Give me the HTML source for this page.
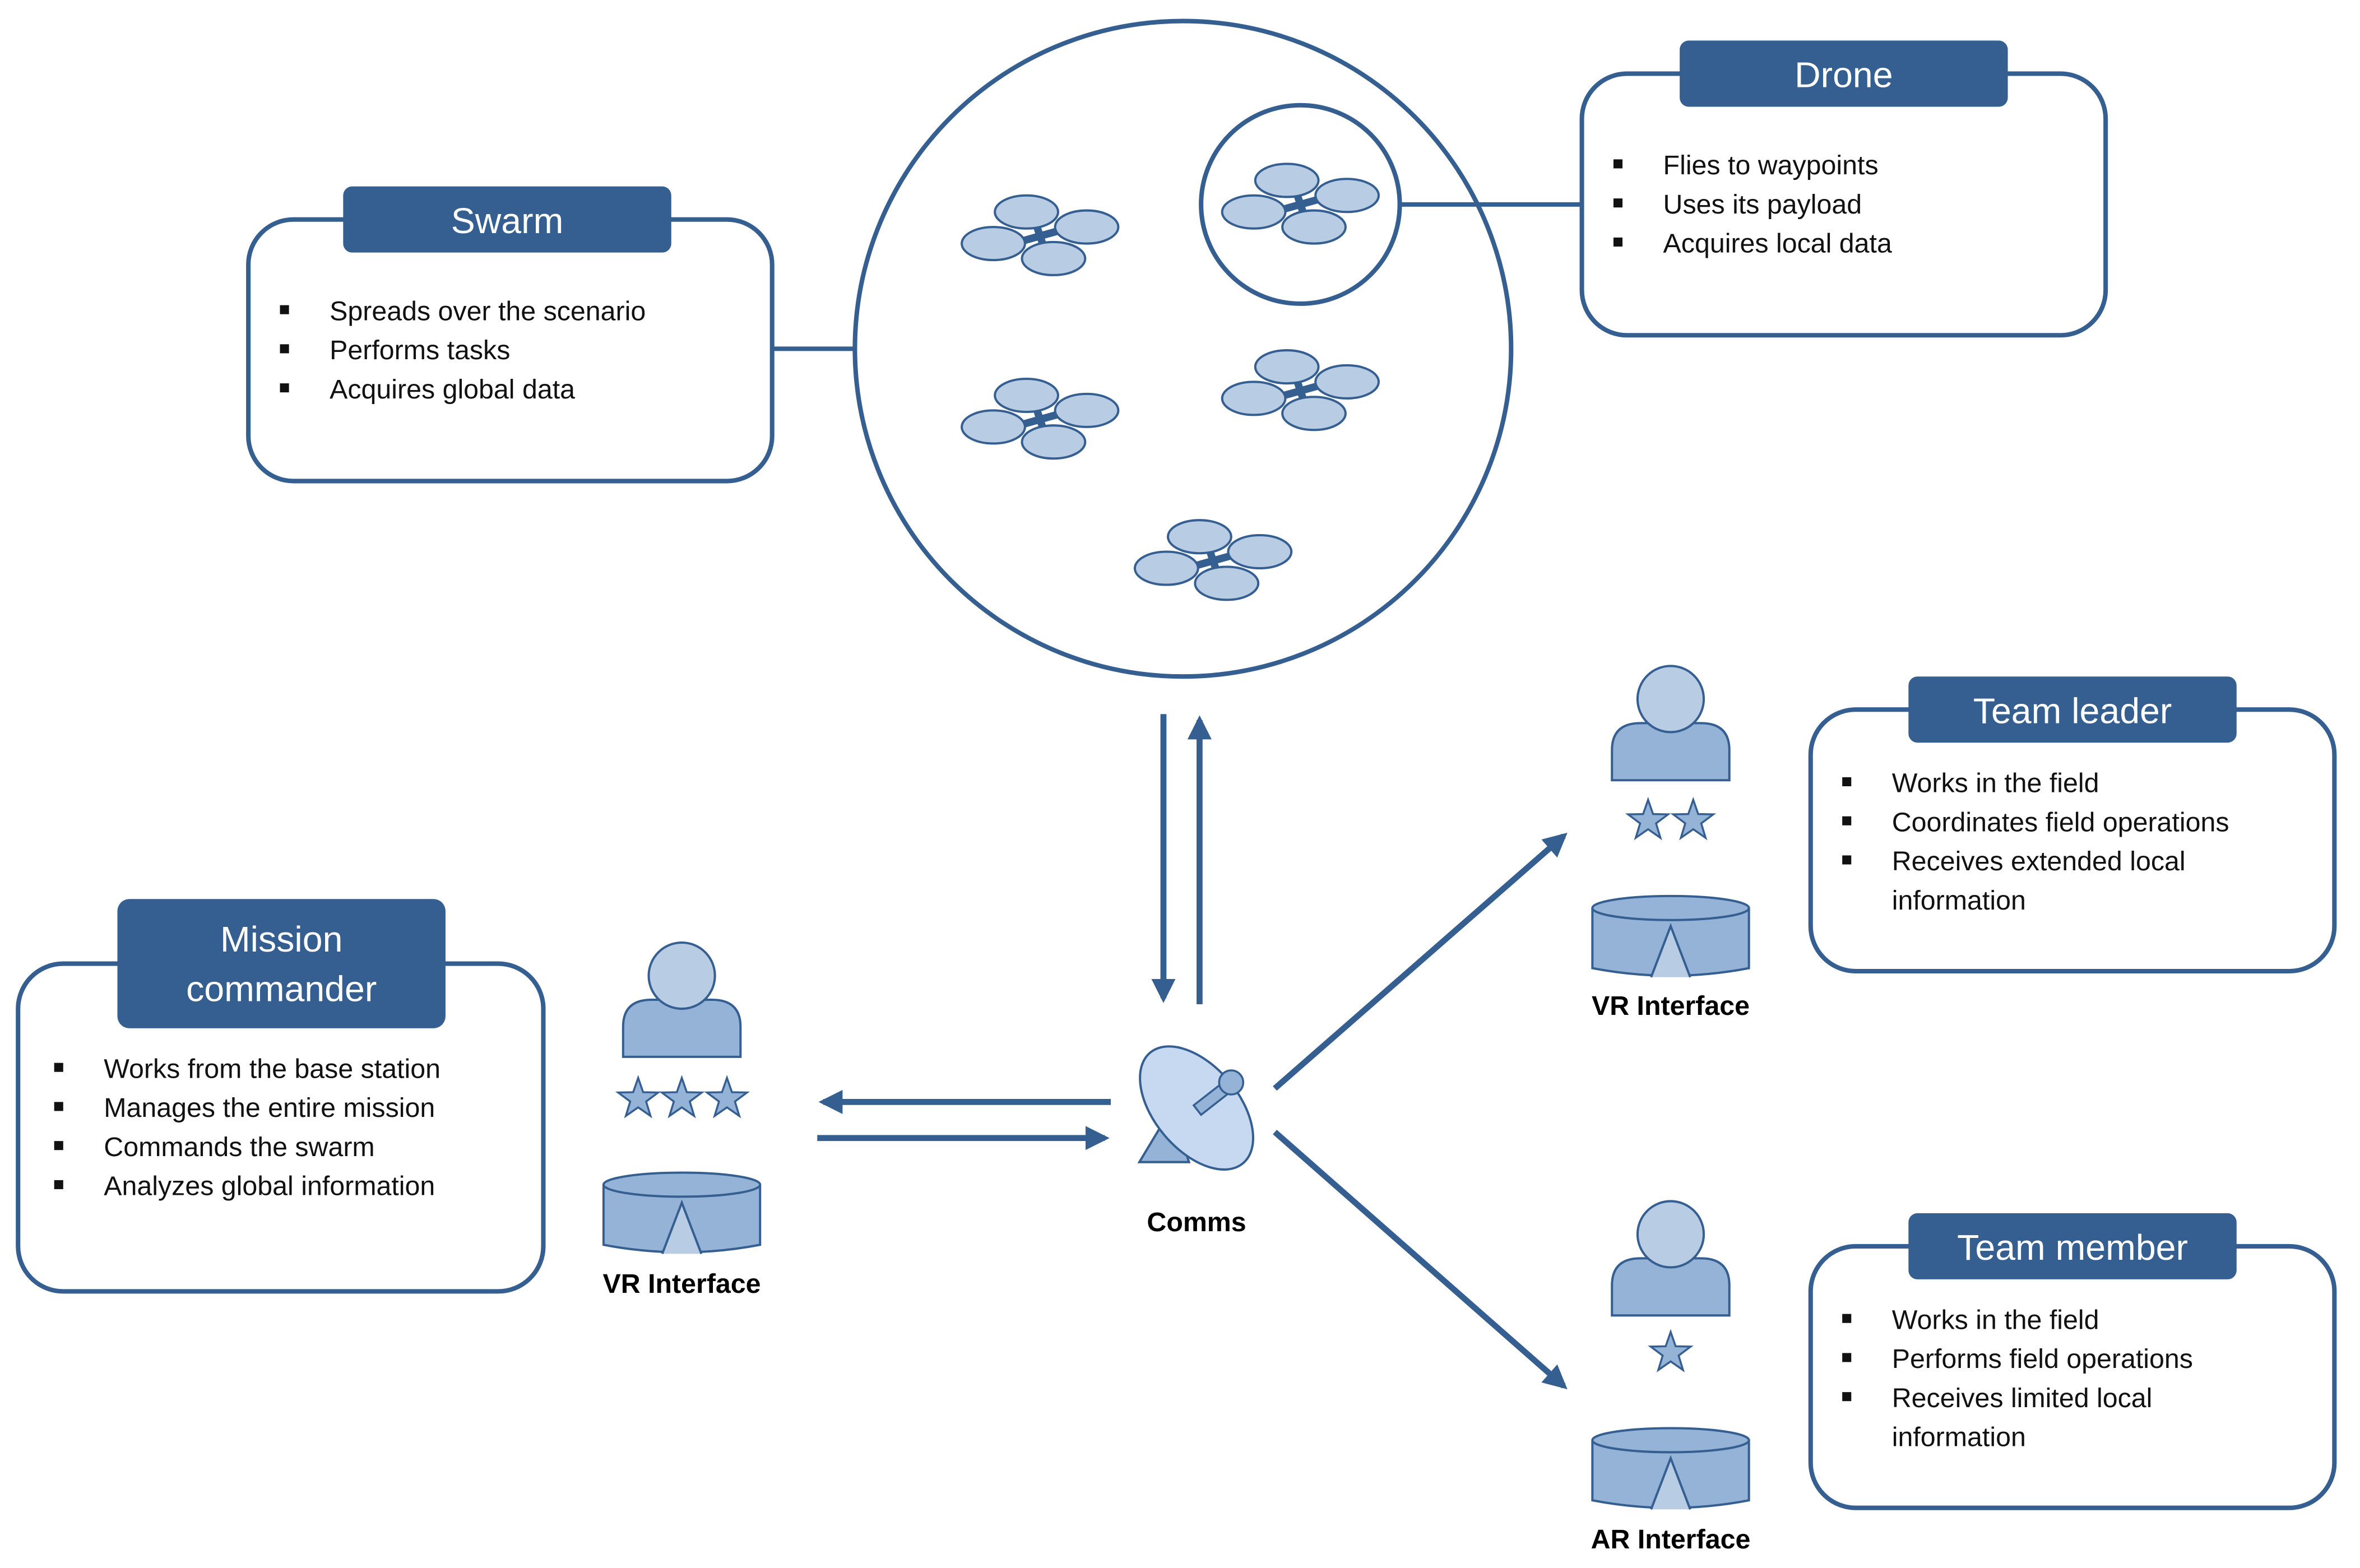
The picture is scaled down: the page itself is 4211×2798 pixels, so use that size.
<!DOCTYPE html>
<html><head><meta charset="utf-8"><style>
html,body{margin:0;padding:0;background:#fff}
svg{display:block}
text{font-family:"Liberation Sans",sans-serif}
</style></head><body>
<svg width="4211" height="2798" viewBox="0 0 1568 1043" preserveAspectRatio="none" xmlns="http://www.w3.org/2000/svg">
<defs>
<g id="drone">
<path d="M-25,7 L25,-7 M-4,-12 L4,12" stroke="#365F91" stroke-width="5"/>
<ellipse cx="-9" cy="-16" rx="21" ry="11" fill="#B8CCE4" stroke="#365F91" stroke-width="1.5"/>
<ellipse cx="31" cy="-6" rx="21" ry="11" fill="#B8CCE4" stroke="#365F91" stroke-width="1.5"/>
<ellipse cx="-31" cy="5" rx="21" ry="11" fill="#B8CCE4" stroke="#365F91" stroke-width="1.5"/>
<ellipse cx="9" cy="15" rx="21" ry="11" fill="#B8CCE4" stroke="#365F91" stroke-width="1.5"/>
</g>
<g id="person">
<path d="M-39,38 L-39,18 Q-39,0 -20,0 L20,0 Q39,0 39,18 L39,38 Z" fill="#95B3D7" stroke="#365F91" stroke-width="1.5"/>
<circle cx="0" cy="-16" r="22" fill="#B8CCE4" stroke="#365F91" stroke-width="1.5"/>
</g>
<g id="dev">
<path d="M-52,0 L-52,40 Q0,50 52,40 L52,0" fill="#95B3D7" stroke="#365F91" stroke-width="1.5"/>
<ellipse cx="0" cy="0" rx="52" ry="8" fill="#95B3D7" stroke="#365F91" stroke-width="1.5"/>
<path d="M-13,46 L0,12 L13,46" fill="#B8CCE4" stroke="#365F91" stroke-width="1.5"/>
</g>
<polygon id="star" points="0,-14 3.3,-4.5 13.3,-4.3 5.3,1.7 8.2,11.3 0,5.6 -8.2,11.3 -5.3,1.7 -13.3,-4.3 -3.3,-4.5" fill="#95B3D7" stroke="#365F91" stroke-width="1.3"/>
<marker id="ah" viewBox="0 0 10 10" refX="8" refY="5" markerWidth="4" markerHeight="4" orient="auto"><path d="M0,0 L10,5 L0,10 Z" fill="#365F91"/></marker>
</defs>

<g stroke="#365F91" stroke-width="3" fill="#fff">
<line x1="513" y1="232" x2="567" y2="232"/>
<circle cx="786" cy="232" r="218"/>
<circle cx="864" cy="136" r="66"/>
<line x1="930" y1="136" x2="1051" y2="136"/>
<rect x="165" y="146" width="348" height="174" rx="30"/>
<rect x="1051" y="49" width="348" height="174" rx="30"/>
<rect x="12" y="641" width="349" height="218" rx="30"/>
<rect x="1203" y="472" width="348" height="174" rx="30"/>
<rect x="1203" y="829" width="348" height="174" rx="30"/>
</g>
<g fill="#365F91">
<rect x="228" y="124" width="218" height="44" rx="6"/>
<rect x="1116" y="27" width="218" height="44" rx="6"/>
<rect x="78" y="598" width="218" height="86" rx="8"/>
<rect x="1268" y="450" width="218" height="44" rx="6"/>
<rect x="1268" y="807" width="218" height="44" rx="6"/>
</g>
<g fill="#fff" font-size="24" text-anchor="middle">
<text x="337" y="155">Swarm</text>
<text x="1225" y="58">Drone</text>
<text x="187" y="633">Mission</text>
<text x="187" y="666">commander</text>
<text x="1377" y="481">Team leader</text>
<text x="1377" y="838">Team member</text>
</g>
<g font-size="18" fill="#111">
<g><rect x="186" y="203" width="6" height="6"/><text x="219" y="213">Spreads over the scenario</text>
<rect x="186" y="229" width="6" height="6"/><text x="219" y="239">Performs tasks</text>
<rect x="186" y="255" width="6" height="6"/><text x="219" y="265">Acquires global data</text></g>
<g><rect x="1072" y="106" width="6" height="6"/><text x="1105" y="116">Flies to waypoints</text>
<rect x="1072" y="132" width="6" height="6"/><text x="1105" y="142">Uses its payload</text>
<rect x="1072" y="158" width="6" height="6"/><text x="1105" y="168">Acquires local data</text></g>
<g><rect x="36" y="707" width="6" height="6"/><text x="69" y="717">Works from the base station</text>
<rect x="36" y="733" width="6" height="6"/><text x="69" y="743">Manages the entire mission</text>
<rect x="36" y="759" width="6" height="6"/><text x="69" y="769">Commands the swarm</text>
<rect x="36" y="785" width="6" height="6"/><text x="69" y="795">Analyzes global information</text></g>
<g><rect x="1224" y="517" width="6" height="6"/><text x="1257" y="527">Works in the field</text>
<rect x="1224" y="543" width="6" height="6"/><text x="1257" y="553">Coordinates field operations</text>
<rect x="1224" y="569" width="6" height="6"/><text x="1257" y="579">Receives extended local</text>
<text x="1257" y="605">information</text></g>
<g><rect x="1224" y="874" width="6" height="6"/><text x="1257" y="884">Works in the field</text>
<rect x="1224" y="900" width="6" height="6"/><text x="1257" y="910">Performs field operations</text>
<rect x="1224" y="926" width="6" height="6"/><text x="1257" y="936">Receives limited local</text>
<text x="1257" y="962">information</text></g>
</g>

<use href="#drone" x="691" y="157"/>
<use href="#drone" x="864" y="136"/>
<use href="#drone" x="691" y="279"/>
<use href="#drone" x="864" y="260"/>
<use href="#drone" x="806" y="373"/>

<g stroke="#365F91" stroke-width="4" marker-end="url(#ah)">
<line x1="773" y1="475" x2="773" y2="664"/>
<line x1="797" y1="668" x2="797" y2="479"/>
<line x1="738" y1="733" x2="547" y2="733"/>
<line x1="543" y1="757" x2="734" y2="757"/>
<line x1="847" y1="724" x2="1039" y2="556"/>
<line x1="847" y1="753" x2="1039" y2="922"/>
</g>

<polygon points="757,773 790,773 778,738" fill="#95B3D7" stroke="#365F91" stroke-width="1.5"/>
<ellipse cx="795" cy="737" rx="28" ry="48" transform="rotate(-40 795 737)" fill="#C6D9F1" stroke="#365F91" stroke-width="1.5"/>
<rect x="793" y="727" width="25" height="8" transform="rotate(-38 805 731)" fill="#95B3D7" stroke="#365F91" stroke-width="1.3"/>
<circle cx="818" cy="720" r="8" fill="#95B3D7" stroke="#365F91" stroke-width="1.3"/>
<text x="795" y="819" font-size="18" font-weight="bold" text-anchor="middle">Comms</text>

<use href="#person" x="453" y="665"/>
<use href="#star" x="424" y="731"/><use href="#star" x="453" y="731"/><use href="#star" x="483" y="731"/>
<use href="#dev" x="453" y="788"/>
<text x="453" y="860" font-size="18" font-weight="bold" text-anchor="middle">VR Interface</text>

<use href="#person" x="1110" y="481"/>
<use href="#star" x="1095" y="546"/><use href="#star" x="1125" y="546"/>
<use href="#dev" x="1110" y="604"/>
<text x="1110" y="675" font-size="18" font-weight="bold" text-anchor="middle">VR Interface</text>

<use href="#person" x="1110" y="837"/>
<use href="#star" x="1110" y="900"/>
<use href="#dev" x="1110" y="958"/>
<text x="1110" y="1030" font-size="18" font-weight="bold" text-anchor="middle">AR Interface</text>
</svg>
</body></html>
